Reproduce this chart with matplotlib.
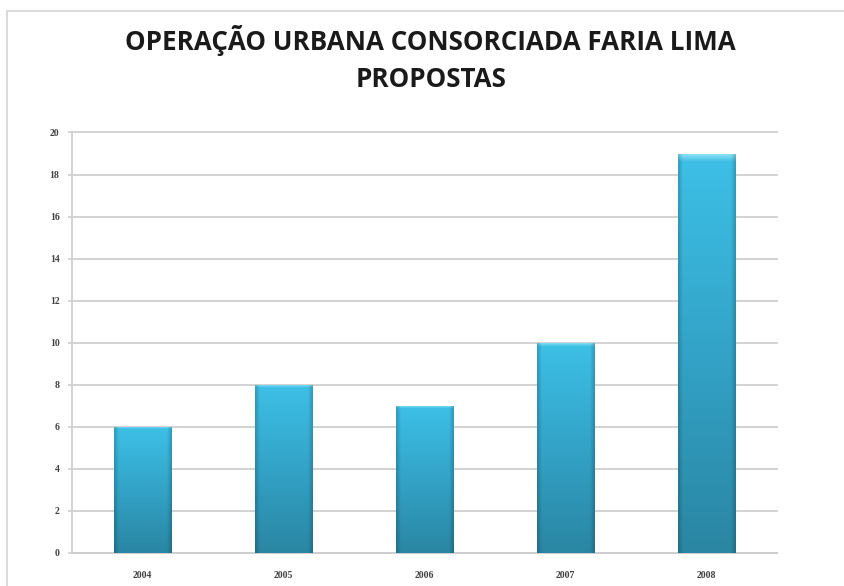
import numpy as np
import matplotlib.pyplot as plt
from matplotlib.colors import LinearSegmentedColormap
from matplotlib.patches import Rectangle

# data
years = ['2004', '2005', '2006', '2007', '2008']
propostas = [6, 8, 7, 10, 19]
yticks = [0, 2, 4, 6, 8, 10, 12, 14, 16, 18, 20]

TITLE1 = 'OPERAÇÃO URBANA CONSORCIADA FARIA LIMA'
TITLE2 = 'PROPOSTAS'
GRID_C = '#cfcfcf'
TICK_C = '#404040'

fig = plt.figure(figsize=(8.44, 5.86), dpi=100)
fig.patch.set_facecolor('white')

# outer chart frame (light gray, open at the right/bottom like the source)
frame = Rectangle((7/844, -0.02), 1.0, 1 - 11/586 + 0.02, transform=fig.transFigure,
                  fill=False, edgecolor='#d4d4d4', lw=1.2)
fig.patches.append(frame)

# two title lines placed on their baselines
tkw = dict(ha='center', va='baseline', fontsize=18.7, fontweight='bold',
           family=['Open Sans', 'DejaVu Sans'], color='#1a1a1a')
fig.text(430/844, 1 - 50/586, TITLE1, **tkw)
fig.text(431/844, 1 - 87/586, TITLE2, **tkw)

ax = fig.add_axes([72/844, 1 - 553/586, (777 - 72)/844, (553 - 132.5)/586])
x = np.arange(len(years))
bars = ax.bar(x, propostas, width=0.41, color='#33a9cf', zorder=3)

# vertical gradient: light highlight at the top, darker teal at the bottom
cmap = LinearSegmentedColormap.from_list('barg', [
    (0.0, '#2a86a3'),
    (0.5, '#33a3c7'),
    (0.985, '#3dbfe6'),
    (1.0, '#8ee3f7'),
])
for b in bars:
    x0, w, h = b.get_x(), b.get_width(), b.get_height()
    v = np.linspace(0, 1, 200)[:, None]
    u = np.linspace(-1, 1, 40)[None, :]
    col = cmap(v * np.ones_like(u))
    edge = np.clip((np.abs(u) - 0.85) / 0.15, 0, 1) * 0.18
    col[..., :3] = col[..., :3] * (1 - edge[..., None])
    im = ax.imshow(col, extent=(x0, x0 + w, 0, h), origin='lower',
                   aspect='auto', zorder=4, interpolation='bilinear')
    im.set_clip_path(b)

ax.set_xlim(-0.5, 4.5)
ax.set_ylim(0, 20)
ax.set_yticks(yticks)
ax.set_xticks(x)
ax.set_xticklabels(years)

ax.yaxis.grid(True, color=GRID_C, lw=1.3, zorder=0)
for gl in ax.get_ygridlines():
    gl.set_clip_on(False)
ax.set_axisbelow(True)
for s in ['top', 'right']:
    ax.spines[s].set_visible(False)
ax.spines['left'].set_color(GRID_C)
ax.spines['left'].set_linewidth(1.3)
ax.spines['bottom'].set_color(GRID_C)
ax.spines['bottom'].set_linewidth(1.3)
ax.tick_params(axis='y', length=3, color=GRID_C, width=1.2, pad=6,
               labelsize=7, labelcolor=TICK_C)
ax.tick_params(axis='x', length=0, pad=13, labelsize=7, labelcolor=TICK_C)
for lab in ax.get_xticklabels() + ax.get_yticklabels():
    lab.set_family(['Liberation Serif', 'DejaVu Serif'])
    lab.set_fontweight('bold')

fig.savefig('out.png', dpi=100)
